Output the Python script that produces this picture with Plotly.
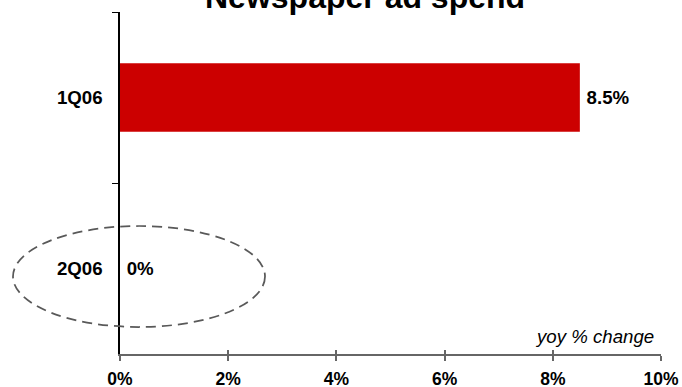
import plotly.graph_objects as go

# Year-over-year change in newspaper ad spend, by quarter
quarters = ["1Q06", "2Q06"]
yoy_change = [8.5, 0]
x_ticks = [0, 2, 4, 6, 8, 10]
x_tick_labels = [f"{v}%" for v in x_ticks]

FONT = "Arial, Liberation Sans, sans-serif"
W, H = 682, 387
L, R, T, B = 120, 21, 12, 33

# value labels, with a thin space to open a small gap after the bar end
bar_labels = ["\u2009" + f"{v:g}%" for v in yoy_change]

fig = go.Figure()
fig.add_trace(go.Bar(
    y=quarters, x=yoy_change, orientation="h",
    width=0.4,
    marker=dict(color="#cc0000", line=dict(width=0)),
    text=bar_labels, texttemplate="%{text}", textposition="outside",
    cliponaxis=False,
    textfont=dict(family=FONT, size=18.67, color="black", weight="bold"),
    showlegend=False, hoverinfo="skip",
))
# empty trace carrying the inner half of the x tick marks
fig.add_trace(go.Scatter(x=[], y=[], xaxis="x2", showlegend=False))

fig.update_layout(
    width=W, height=H,
    margin=dict(l=L, r=R, t=T, b=B, pad=0, autoexpand=False),
    paper_bgcolor="white", plot_bgcolor="white",
    font=dict(family=FONT, color="black"),
    xaxis=dict(
        range=[0, 10], tickvals=x_ticks, ticktext=x_tick_labels,
        showgrid=False, zeroline=False, automargin=False,
        showline=True, linecolor="#666666", linewidth=2,
        ticks="outside", ticklen=5, tickcolor="#666666", tickwidth=1.5,
        tickfont=dict(family=FONT, size=17.5, color="black", weight="bold"),
        ticklabelstandoff=3,
    ),
    xaxis2=dict(
        range=[0, 10], tickvals=x_ticks, overlaying="x", anchor="y",
        side="bottom", showticklabels=False, showgrid=False, zeroline=False,
        ticks="inside", ticklen=4, tickcolor="#666666", tickwidth=1.5,
        automargin=False,
    ),
    yaxis=dict(
        type="category", categoryarray=quarters, autorange="reversed",
        showgrid=False, zeroline=False, automargin=False,
        showline=True, linecolor="black", linewidth=1.5,
        ticks="outside", tickson="boundaries", ticklen=6, tickcolor="black",
        tickfont=dict(family=FONT, size=18.67, color="black", weight="bold"),
        ticklabelstandoff=12,
    ),
    bargap=0.6,
)

pw, ph = W - L - R, H - T - B


def px_x(v):
    return (v - L) / pw


def px_y(v):
    return (H - B - v) / ph


fig.add_annotation(
    text="Newspaper ad spend", xref="paper", yref="paper",
    x=px_x(365), y=px_y(17), xanchor="center", yanchor="bottom",
    showarrow=False, font=dict(family=FONT, size=32, color="black", weight="bold"),
)
fig.add_annotation(
    text="<i>yoy % change</i>", xref="paper", yref="paper",
    x=px_x(656), y=px_y(349), xanchor="right", yanchor="bottom",
    showarrow=False, font=dict(family=FONT, size=18.67, color="black"),
)
fig.add_shape(
    type="circle", xref="paper", yref="paper",
    x0=px_x(13), x1=px_x(265), y0=px_y(327), y1=px_y(226),
    line=dict(color="#595959", width=1.75, dash="10px,6px"),
)

fig.write_html("out.html")
